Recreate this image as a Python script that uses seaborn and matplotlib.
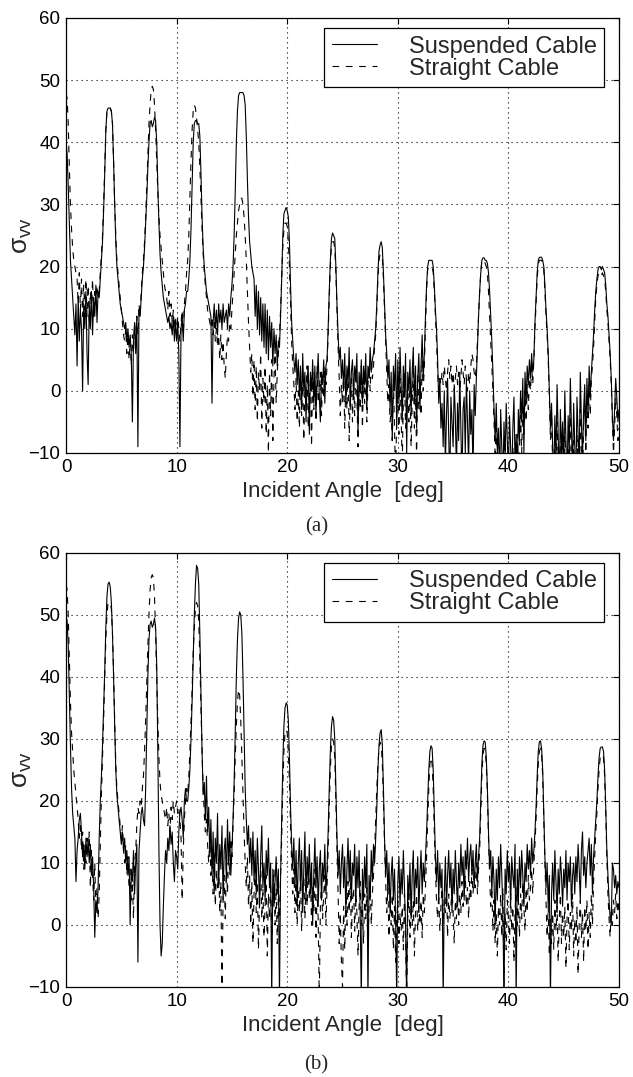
import numpy as np
import pandas as pd
import matplotlib
matplotlib.use("Agg")
import matplotlib.pyplot as plt
import seaborn as sns

# ----------------------------
# Data: sigma_vv vs incident angle, sampled every 0.1 deg (0..50)
# ----------------------------
angle = np.round(np.arange(501) * 0.1, 1)

labels = ["Suspended Cable", "Straight Cable"]
panel_tags = ["(a)", "(b)"]
x_ticks = [0, 10, 20, 30, 40, 50]
y_ticks = [-10, 0, 10, 20, 30, 40, 50, 60]

susp_a = [
    40, 38, 33, 27, 21, 18, 15, 12, 9, 14,
    4, 15, 8, 13, 10, 0, 14, 10, 16, 6,
    1, 14, 10, 16, 9, 15, 12, 17, 11, 16,
    15, 18, 21, 24, 29, 35, 42, 45, 45.5, 45.5,
    45.5, 45, 43, 37, 30, 24, 20, 18, 16, 14,
    13, 12, 11, 10, 11, 8, 10, 7, 9, 6,
    -5, 8, 11, 6, 12, -9, 13, 12, 15, 18,
    20, 23, 27, 31, 36, 40, 43, 43.5, 42.5, 43,
    44, 43.5, 40, 33, 27, 22, 19, 17, 15, 14,
    13, 12, 11, 12, 10, 11, 9, 12, 8, 11,
    8, 11, 6, -9, 10, 12, 8, 13, 14, 16,
    16, 18, 21, 26, 33, 40, 43, 43.5, 43.5, 43,
    43, 41, 35, 28, 23, 20, 18, 16, 15, 14,
    13, 12, -2, 11, 14, 10, 13, 9, 14, 11,
    13, 10, 14, 11, 12, 13, 10, 14, 12, 15,
    17, 20, 25, 32, 40, 45, 47.5, 48, 48, 48,
    48, 47.5, 46, 41, 34, 28, 24, 22, 20, 19,
    18, 12, 17, 10, 16, 9, 15, 8, 14, 7,
    14, 6, 13, 5, 12, 7, 11, 4, 10, 6,
    9, 4, 8, 7, 12, 18, 25, 28.5, 29, 29.5,
    29, 28, 24, 17, 11, 8, 5, 3, 6, 1,
    5, -1, 4, -3, 6, 0, 3, -5, 2, 4,
    -7, 3, 0, 5, -2, 4, -4, 2, 6, -1,
    -5, 3, 1, 5, -2, 4, 5, 10, 16, 21,
    24.5, 25.4, 25, 24.5, 20, 14, 9, 5, 7, 2,
    5, 0, 6, -2, 4, 1, 7, -3, 3, 5,
    -1, 4, 2, 6, -7, 3, 0, 5, -2, 4,
    1, 6, -3, 4, 2, 7, 3, 5, 6, 8,
    10, 14, 19, 22.5, 23.5, 24, 23, 19, 14, 9,
    6, 2, 5, -3, 3, -8, 4, 0, 6, -6,
    5, -2, 7, 1, -5, 4, -1, 6, -10, 3,
    0, 5, -4, 3, 7, -2, 4, -6, 2, 6,
    -3, 4, 9, 2, 6, 12, 17, 20, 21, 21,
    21, 21, 20, 17, 13, 10, 5, -2, 2, -6,
    -2, -9, 0, -12, -4, 2, -7, -15, -1, -5,
    -9, 1, -4, -13, -2, -8, 3, -6, -15, -3,
    -1, -10, 2, -5, -12, 0, -7, -3, -14, 1,
    -4, 2, 7, 12, 16, 19, 21, 21.4, 21.4, 21,
    21, 20.5, 19, 16, 12, 8, 3, -3, -8, -2,
    -10, -6, -14, -3, -9, -15, -5, -11, -2, -8,
    -13, -4, -9, -15, -6, -1, -12, -7, -14, -3,
    -8, 0, -5, 2, -10, 3, -2, 4, 1, 5,
    2, 6, 3, 5, 11, 15, 19, 21, 21.5, 21.5,
    21.5, 21, 20, 17, 13, 10, 6, 0, -6, -2,
    -9, -14, -4, -11, 1, -7, -15, -3, -10, -5,
    -12, 0, -8, -15, -4, -10, 2, -6, -13, -2,
    -9, -15, -1, -7, -12, 3, -5, -11, -3, 1,
    -8, 2, -4, 4, -1, 3, 6, 9, 13, 16,
    18, 19.5, 20, 20, 19.5, 20, 19.5, 19, 17, 14,
    12, 9, 6, 2, -4, -8, -3, 2, -1, -5,
    -3,
]

strt_a = [
    48, 47, 43, 36, 30, 26, 23, 21, 20, 19,
    18, 14, 19, 13, 18, 12, 17, 13, 18, 12,
    17, 11, 16, 13, 18, 12, 16, 14, 17, 15,
    16, 19, 22, 25, 30, 36, 42, 45, 45.5, 45.5,
    45.5, 45, 43, 37, 30, 25, 21, 19, 17, 15,
    13, 11, 9, 8, 10, 6, 9, 5, 8, 4,
    9, 6, 11, 7, 12, 9, 14, 12, 16, 19,
    21, 24, 28, 33, 38, 43, 46, 48.5, 49, 48.5,
    46, 42, 37, 32, 28, 25, 23, 21, 19, 17,
    16, 15, 13, 16, 12, 14, 11, 13, 10, 12,
    9, 12, 10, 8, 11, 13, 9, 14, 16, 19,
    21, 25, 31, 37, 42, 45, 46, 45.5, 44, 42,
    40, 36, 31, 26, 22, 19, 17, 15, 13, 12,
    11, 10, 12, 9, 11, 8, 10, 7, 9, 5,
    9, 5, 8, 4, 2, 6, 9, 8, 11, 10,
    13, 16, 19, 22, 25, 27, 29, 30, 31, 31,
    30, 28, 25, 21, 16, 11, 7, 3, 6, -1,
    5, -3, 4, -5, 3, 0, 6, -6, 2, -2,
    4, -7, 1, -10, 3, -4, 5, -8, 2, 6,
    -2, 3, 6, 9, 13, 18, 23, 26, 27, 27,
    26.5, 24, 20, 14, 8, 4, 1, -3, 2, -5,
    0, -6, 3, -4, 2, -8, 1, -2, 4, -6,
    -1, 2, -9, 3, -3, 1, -5, 4, -2, 0,
    3, -4, 2, -1, 4, 1, 4, 9, 15, 20,
    23.5, 24, 24, 23, 19, 13, 7, 2, -4, 1,
    -2, 3, -6, 1, -3, 4, -8, 0, 2, -5,
    2, -4, 3, -1, -9, 1, -3, 4, -6, 2,
    -2, 3, -5, 1, 4, 0, 5, 2, 4, 7,
    9, 13, 18, 21, 22, 22, 21.5, 18, 13, 8,
    3, -2, 1, -5, -3, -8, 2, -6, -14, -4,
    0, -7, 2, -4, -12, -1, 3, -6, -3, 1,
    -5, 2, -9, -2, 4, -6, 0, -11, 3, -3,
    1, -4, 5, 0, 4, 10, 16, 19.5, 20, 20,
    20, 20, 19, 16, 12, 8, 3, 0, 2, 1,
    3, 1, 4, 2, 0, 3, 5, 2, 4, 1,
    3, 0, 2, 4, 1, 3, 0, 2, 5, 3,
    1, 4, 2, 0, 3, 1, 4, 6, 5, 3,
    2, 4, 8, 12, 16, 19, 21, 21, 21, 20.5,
    20, 19, 16, 12, 8, 4, 0, -5, -10, -6,
    -12, -16, -9, -14, -18, -11, -15, -8, -13, -17,
    -10, -15, -12, -18, -9, -14, -11, -16, -7, -12,
    -9, -4, -10, -2, -7, 0, -5, 1, -3, 2,
    0, 4, 1, 5, 10, 14, 18, 20.5, 21, 21,
    21, 20.5, 19.5, 16, 12, 9, 5, -1, -8, -4,
    -12, -16, -8, -14, -5, -11, -17, -9, -13, -7,
    -15, -6, -12, -18, -9, -14, -4, -11, -16, -8,
    -13, -18, -7, -12, -15, -3, -10, -14, -6, -2,
    -10, -1, -6, 1, -4, 2, 4, 7, 11, 15,
    17, 18.5, 19, 19, 18.5, 19, 18.5, 18, 16, 13,
    11, 8, 5, 1, -5, -10, -6, -1, -4, -8,
    -6,
]

susp_b = [
    50, 49, 45, 37, 29, 22, 18, 16, 14, 7,
    12, 14, 17, 18, 15, 11, 13, 9, 14, 11,
    14, 10, 13, 8, 11, 6, -2, 4, 2, 6,
    14, 20, 24, 29, 35, 41, 48, 53, 55, 55.3,
    54.5, 52, 47, 40, 32, 25, 21, 19, 17, 15,
    13, 15, 12, 14, 10, 12, 8, 11, 0, 9,
    7, 12, 5, 10, 13, -6, 12, 15, 18, 19,
    17, 16, 22, 31, 40, 46, 48.5, 49, 48, 48.5,
    49.5, 48, 42, 28, 12, 0, -5, -3, 3, 8,
    12, 10, 14, 12, 16, 13, 15, 10, 7, 12,
    11, 9, 15, 18, 19, 17, 14, 20, 22, 20,
    20, 22, 25, 30, 36, 43, 50, 55, 58, 57.5,
    55, 47, 37, 28, 21, 23, 17, 24, 15, 19,
    11, 17, 8, 15, 5, 14, 10, 18, 6, 13,
    9, 16, 4, 12, 14, 7, 17, 10, 15, 8,
    12, 17, 23, 31, 40, 46, 49.5, 50.5, 50, 47,
    40, 31, 22, 17, 13, 16, 10, 14, 8, 15,
    7, 12, 5, 14, 9, 3, 11, 16, 6, 10,
    4, 12, 8, 14, 6, 10, -12, 9, 3, 7,
    11, 5, 9, -12, 8, 17, 26, 32, 35, 35.8,
    35.5, 33, 27, 19, 13, 9, 14, 6, 12, 3,
    10, 14, 6, 12, 2, 9, 15, 4, 11, 7,
    13, 5, 10, 0, 8, 14, 6, 11, 3, 9,
    12, 4, 10, 7, 13, 5, 9, 15, 22, 28,
    32, 33.6, 33, 30, 22, 14, 8, 12, 5, 10,
    13, 6, 11, 2, 9, 14, 7, 12, 4, 10,
    8, 13, 3, 11, 6, 12, 1, -12, 9, 4,
    11, 6, 13, -12, 8, 4, 12, 7, 13, 10,
    14, 19, 25, 29, 31, 31.5, 29, 22, 14, 8,
    12, 5, 10, 2, 8, 11, 4, 9, 1, -12,
    7, 11, 3, 9, 5, 12, 6, 0, -12, 8,
    4, 10, 1, 8, 12, 3, 9, 6, 11, 2,
    8, 12, 5, 10, 7, 11, 15, 20, 25, 28,
    28.9, 28.5, 25, 18, 11, 7, 12, 4, 10, 6,
    9, -12, 5, 11, 3, 8, 12, 6, 10, 2,
    9, 5, 12, 7, 3, 10, 6, 13, 8, 11,
    4, 12, 9, 14, 7, 11, 13, 8, 12, 6,
    10, 13, 7, 11, 14, 20, 26, 29, 29.7, 29.5,
    27, 22, 15, 9, 12, 5, 11, 7, 0, 9,
    4, 11, 6, 13, 8, 2, -12, 9, 5, 12,
    7, 10, 3, 11, 8, 6, 13, -12, 9, 4,
    11, 6, 12, 8, 3, 10, 7, 13, 9, 12,
    8, 14, 10, 12, 15, 19, 24, 28, 29.5, 29.7,
    28.5, 25, 18, 11, 6, 10, 3, 8, -12, 5,
    10, 4, 12, 7, 2, 9, 5, 11, 8, 3,
    9, 6, 12, 4, 10, 7, 11, 3, 8, 10,
    5, 11, 7, 13, 9, 4, 12, 15, 8, 11,
    6, 10, 12, 14, 8, 13, 5, 11, 14, 17,
    20, 24, 27, 28.5, 28.7, 28.7, 28, 25, 19, 12,
    8, 4, 1, 0, 10, 9, 6, 8, 5, 7,
    6,
]

strt_b = [
    55, 54, 50, 43, 36, 31, 28, 25, 23, 21,
    19, 17, 14, 16, 12, 15, 9, 13, 10, 14,
    11, 15, 6, 12, 8, 4, 10, 2, 6, 1,
    5, 13, 21, 27, 33, 40, 46, 50, 52, 52,
    52, 51, 47, 41, 33, 26, 22, 20, 18, 16,
    14, 16, 12, 10, 13, 8, 11, 6, 9, 4,
    7, 1, 10, 12, 16, 19, 18, 20, 19, 22,
    24, 28, 33, 39, 45, 50, 54, 56, 56.5, 56,
    53, 47, 40, 33, 27, 23, 21, 20, 19, 18,
    17, 19, 16, 18, 15, 19, 17, 20, 18, 19,
    20, 18, 19, 17, 14, 4, 12, 17, 20, 22,
    21, 24, 28, 33, 38, 44, 48, 51, 52, 51.5,
    49, 43, 35, 28, 22, 18, 15, 17, 13, 10,
    14, 8, 11, 5, 12, 3, 9, 6, 10, 2,
    7, -12, 4, 8, 1, 10, 5, 12, 8, 14,
    11, 16, 21, 27, 32, 36, 38, 37, 33, 27,
    21, 15, 10, 6, 11, 3, 8, 0, 7, -3,
    5, 9, 2, 7, -4, 4, 10, 1, 6, -2,
    3, 8, -5, 5, 1, 7, -2, 4, 9, 0,
    6, -3, 5, 1, 8, 14, 22, 28, 31, 31.5,
    31, 28, 23, 16, 10, 5, 9, 2, 7, 0,
    6, 2, 9, -1, 5, 8, 1, 7, 3, 10,
    4, 8, 0, 6, 2, 9, -2, 5, 1, -12,
    3, 7, 1, 5, 8, 0, 6, 12, 19, 25,
    29, 30, 29.5, 27, 20, 12, 5, -3, 2, -6,
    -10, 3, -4, 5, 0, 7, 2, 8, -2, 4,
    6, -1, 5, 2, -5, 3, 7, 0, 4, -3,
    5, 1, 6, -2, 3, 7, 0, 5, 8, 12,
    17, 22, 26, 28.5, 29.5, 29, 26, 20, 13, 7,
    2, 6, -2, 4, 0, 5, -4, 3, -6, 1,
    4, -3, 2, -1, 3, -4, 5, -2, -12, 1,
    5, -2, 3, 0, 4, -5, 2, 5, -1, 3,
    0, 4, -2, 5, 2, 6, 11, 17, 22, 26,
    27, 26, 22, 15, 9, 4, 1, 5, -1, 3,
    6, 0, 4, 2, 7, -2, 5, 1, 3, 6,
    2, -3, 4, 1, 6, 0, 5, 2, 7, 3,
    5, 8, 3, 6, 1, 7, 4, 9, 5, 8,
    6, 10, 5, 9, 12, 18, 24, 27.5, 28.5, 28,
    26, 21, 14, 8, 3, 6, -1, 4, -3, 2,
    -5, 3, 0, 5, -2, 6, -10, 2, -4, 4,
    1, -3, 5, -1, 3, -6, 2, 6, 0, 4,
    -2, 5, 1, 7, 3, -1, 6, 2, 8, 4,
    6, 9, 5, 10, 13, 17, 22, 26, 28, 28.5,
    27.5, 24, 17, 10, 4, -2, 3, -5, 1, -3,
    2, -4, 4, -1, 3, -6, 1, 5, -3, 2,
    -2, 3, -7, 1, 4, -4, 2, -1, 5, -5,
    1, -3, 3, -8, 0, 4, -2, 2, -6, 3,
    -1, 4, -4, 2, -2, 5, 0, 7, 11, 15,
    18, 22, 25, 27, 27.5, 27.5, 27, 24, 18, 11,
    5, 1, -2, 3, 0, 4, 2, 5, 1, 4,
    2,
]

for arr in (susp_a, strt_a, susp_b, strt_b):
    assert len(arr) == len(angle)

# ----------------------------
# Style
# ----------------------------
sns.set_style("white")
plt.rcParams["font.family"] = ["Liberation Sans", "DejaVu Sans"]
plt.rcParams["mathtext.fontset"] = "custom"
plt.rcParams["mathtext.rm"] = "Liberation Sans"
plt.rcParams["mathtext.it"] = "Liberation Sans"

fig = plt.figure(figsize=(6.33, 10.77), dpi=100)
ax_a = fig.add_axes([0.1043, 0.5794, 0.8736, 0.4039])
ax_b = fig.add_axes([0.1043, 0.0836, 0.8736, 0.4030])

panels = [(ax_a, susp_a, strt_a), (ax_b, susp_b, strt_b)]

for ax, susp, strt in panels:
    df = pd.DataFrame({"angle": np.concatenate([angle, angle]),
                       "sigma": np.concatenate([strt, susp]),
                       "cable": [labels[1]] * len(angle) + [labels[0]] * len(angle)})
    # straight (dashed) first, suspended (solid) drawn on top
    sns.lineplot(data=df[df["cable"] == labels[1]], x="angle", y="sigma",
                 color="black", linewidth=0.8, estimator=None, sort=False,
                 ax=ax, label=labels[1])
    ax.lines[-1].set_dashes((6, 6))
    sns.lineplot(data=df[df["cable"] == labels[0]], x="angle", y="sigma",
                 color="black", linewidth=0.8, estimator=None, sort=False,
                 ax=ax, label=labels[0])

    ax.set_xlim(0, 50)
    ax.set_ylim(-10, 60)
    ax.set_xticks(x_ticks)
    ax.set_yticks(y_ticks)
    ax.set_yticklabels(["\u221210" if t < 0 else str(t) for t in y_ticks])
    ax.grid(True, color="black", linestyle=(0, (1, 3.5)), linewidth=0.8)
    ax.tick_params(direction="in", length=4, width=0.8, top=True, right=True,
                   labelsize=13.5, pad=4, colors="black")
    for s in ax.spines.values():
        s.set_color("black")
        s.set_linewidth(0.9)
    ax.set_xlabel("Incident Angle  [deg]", fontsize=16, labelpad=4)
    ax.set_ylabel("\u03c3$_{\\mathrm{vv}}$", fontsize=19)
    ax.yaxis.set_label_coords(-0.058, 0.5)

    handles, _ = ax.get_legend_handles_labels()
    leg = ax.legend([handles[1], handles[0]], labels, loc="upper right",
                    bbox_to_anchor=(0.973, 0.977), borderaxespad=0,
                    fontsize=17, frameon=True, fancybox=False, framealpha=1,
                    edgecolor="black", borderpad=0.32, labelspacing=0.0,
                    handlelength=1.9, handletextpad=1.35)
    leg.get_frame().set_linewidth(0.9)

fig.text(0.5, 1 - 527 / 1077, panel_tags[0], ha="center", va="center",
         fontsize=15, family="Liberation Serif")
fig.text(0.5, 1 - 1065 / 1077, panel_tags[1], ha="center", va="center",
         fontsize=15, family="Liberation Serif")

plt.savefig("out.png", dpi=100)
plt.close()
